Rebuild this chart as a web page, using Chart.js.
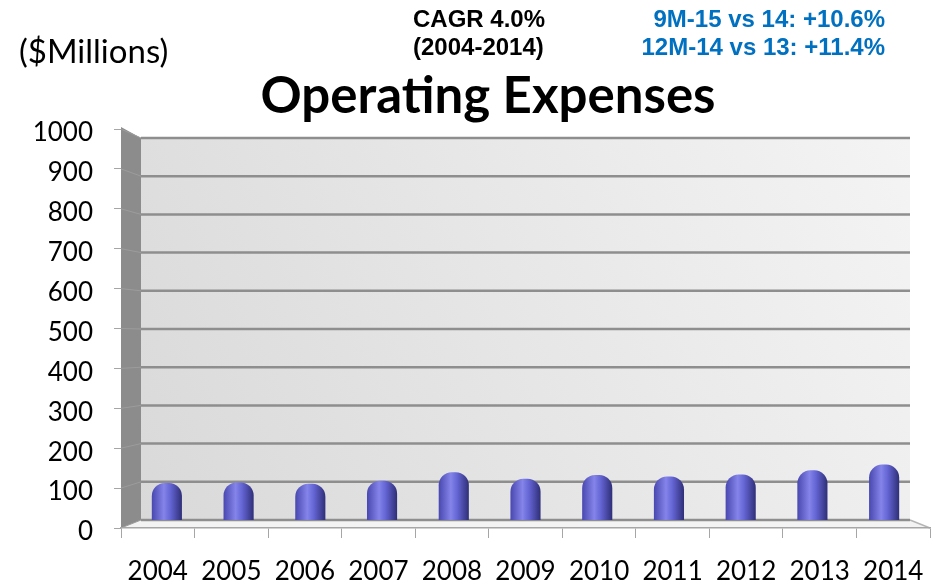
<!DOCTYPE html>
<html>
<head>
<meta charset="utf-8">
<title>Operating Expenses</title>
<script src="https://cdn.jsdelivr.net/npm/chart.js@4.4.1/dist/chart.umd.min.js"></script>
<style>
  body { margin: 0; background: #fff; }
  canvas { display: block; }
</style>
</head>
<body>
<canvas id="opexChart" width="943" height="587"></canvas>
<script>
// Years along the bottom
const years = ['2004', '2005', '2006', '2007', '2008', '2009', '2010', '2011', '2012', '2013', '2014'];

// Operating expenses in $ millions (read against the back wall gridlines)
const opex = [97, 98, 95, 103, 125, 108, 118, 114, 119, 130, 145];

// Value axis
const yMin = 0;
const yMax = 1000;
const yStep = 100;

// Notes printed above the chart
const unitNote = '($Millions)';
const cagrNote = ['CAGR 4.0%', '(2004-2014)'];
const growthNotes = ['9M-15 vs 14: +10.6%', '12M-14 vs 13: +11.4%'];

// how far the back wall sits behind the front plane (3D look)
const depthX = 20;
const depthTop = 9;
const depthBottom = 8;

// Cylinder shading for each bar
function cylinderFill(context) {
    const chart = context.chart;
    if (!chart.chartArea || context.dataIndex === undefined) {
        return '#6666d8';
    }
    const cx = chart.scales.xBar.getPixelForValue(context.dataIndex);
    const g = chart.ctx.createLinearGradient(cx - 15, 0, cx + 15, 0);
    g.addColorStop(0, '#4848b0');
    g.addColorStop(0.4, '#8484ea');
    g.addColorStop(0.62, '#6464d4');
    g.addColorStop(1, '#2f2f78');
    return g;
}

// Back wall, side wall and floor, plus the notes on top
const wallPlugin = {
    id: 'walls',
    afterLayout(chart) {
        const a = chart.chartArea;
        const yw = chart.scales.yWall;
        yw.top = a.top + depthTop;
        yw.bottom = a.bottom - depthBottom;
        yw.height = yw.bottom - yw.top;
        yw.configure();
        const xb = chart.scales.xBar;
        xb.left = a.left + depthX / 2;
        xb.right = a.right - depthX / 2;
        xb.width = xb.right - xb.left;
        xb.configure();
        // centre the title over the plot the way the slide has it
        if (chart.titleBlock) {
            chart.titleBlock.left = 46;
        }
    },
    beforeDraw(chart) {
        const { ctx, chartArea: a, scales } = chart;
        const yw = scales.yWall;
        const yf = scales.y;
        const bl = a.left + depthX;
        const br = a.right - depthX;
        const bt = yw.getPixelForValue(yMax);
        const bb = yw.getPixelForValue(yMin);
        ctx.save();

        // back wall
        const g = ctx.createLinearGradient(bl, bb, br, bt);
        g.addColorStop(0, '#d9d9d9');
        g.addColorStop(1, '#f4f4f4');
        ctx.fillStyle = g;
        ctx.fillRect(bl, bt, br - bl, bb - bt);

        // floor
        ctx.beginPath();
        ctx.moveTo(a.left, a.bottom);
        ctx.lineTo(bl, bb);
        ctx.lineTo(br, bb);
        ctx.lineTo(a.right, a.bottom);
        ctx.closePath();
        ctx.fillStyle = '#f3f3f3';
        ctx.fill();
        ctx.strokeStyle = '#b5b5b5';
        ctx.lineWidth = 1.5;
        ctx.beginPath();
        ctx.moveTo(br, bb);
        ctx.lineTo(a.right, a.bottom);
        ctx.stroke();

        // side wall
        ctx.beginPath();
        ctx.moveTo(a.left, yf.getPixelForValue(yMax) - 2);
        ctx.lineTo(bl, bt);
        ctx.lineTo(bl, bb);
        ctx.lineTo(a.left, a.bottom);
        ctx.closePath();
        ctx.fillStyle = '#8c8c8c';
        ctx.fill();

        // gridlines on the side and back walls
        yw.ticks.forEach(t => {
            const yBack = yw.getPixelForValue(t.value);
            const yFront = yf.getPixelForValue(t.value);
            ctx.strokeStyle = '#9c9c9c';
            ctx.lineWidth = 1;
            ctx.beginPath();
            ctx.moveTo(a.left, yFront);
            ctx.lineTo(bl, yBack);
            ctx.stroke();
            ctx.strokeStyle = '#8e8e8e';
            ctx.lineWidth = 2.5;
            ctx.beginPath();
            ctx.moveTo(bl, yBack);
            ctx.lineTo(br, yBack);
            ctx.stroke();
        });
        ctx.restore();
    },
    afterDraw(chart) {
        const ctx = chart.ctx;
        ctx.save();
        ctx.textBaseline = 'alphabetic';

        ctx.fillStyle = '#000';
        ctx.textAlign = 'left';
        ctx.font = '33px Lato';
        ctx.fillText(unitNote, 19, 63);

        ctx.font = 'bold 24px "Liberation Sans", Arial, sans-serif';
        ctx.fillText(cagrNote[0], 413, 27);
        ctx.fillText(cagrNote[1], 413, 55);

        ctx.fillStyle = '#0070c0';
        ctx.textAlign = 'right';
        ctx.fillText(growthNotes[0], 885, 27);
        ctx.fillText(growthNotes[1], 885, 55);
        ctx.restore();
    }
};

new Chart(document.getElementById('opexChart'), {
    type: 'bar',
    data: {
        labels: years,
        datasets: [{
            label: 'Operating Expenses',
            data: opex,
            xAxisID: 'xBar',
            yAxisID: 'yWall',
            backgroundColor: cylinderFill,
            borderWidth: 0,
            borderRadius: { topLeft: 13, topRight: 13, bottomLeft: 0, bottomRight: 0 },
            borderSkipped: false,
            barPercentage: 0.42,
            categoryPercentage: 1
        }]
    },
    options: {
        responsive: false,
        animation: false,
        layout: {
            padding: { left: 0, right: 13, top: 0, bottom: 0 }
        },
        scales: {
            x: {
                type: 'category',
                position: 'bottom',
                offset: true,
                grid: {
                    drawOnChartArea: false,
                    tickLength: 10,
                    color: '#a6a6a6',
                    offset: true
                },
                border: { display: true, color: '#a6a6a6', width: 1.5 },
                ticks: {
                    color: '#000',
                    padding: 18,
                    font: { family: 'Lato', size: 26 }
                },
                afterFit: (scale) => { scale.height = 59; }
            },
            y: {
                type: 'linear',
                position: 'left',
                min: yMin,
                max: yMax,
                grid: {
                    drawOnChartArea: false,
                    tickLength: 7,
                    color: '#a6a6a6'
                },
                border: { display: false },
                ticks: {
                    stepSize: yStep,
                    color: '#000',
                    padding: 21,
                    labelOffset: 4,
                    font: { family: 'Lato', size: 26 },
                    callback: (value) => String(value)
                },
                afterFit: (scale) => { scale.width = 121; }
            },
            xBar: {
                type: 'category',
                display: false,
                offset: true
            },
            yWall: {
                type: 'linear',
                display: false,
                min: yMin,
                max: yMax,
                ticks: { stepSize: yStep }
            }
        },
        plugins: {
            legend: { display: false },
            tooltip: { enabled: false },
            title: {
                display: true,
                text: 'Operating Expenses',
                color: '#000',
                font: { family: 'Lato', size: 51, weight: 'bold' },
                padding: { top: 66, bottom: 1.8 }
            }
        }
    },
    plugins: [wallPlugin]
});
</script>
</body>
</html>
